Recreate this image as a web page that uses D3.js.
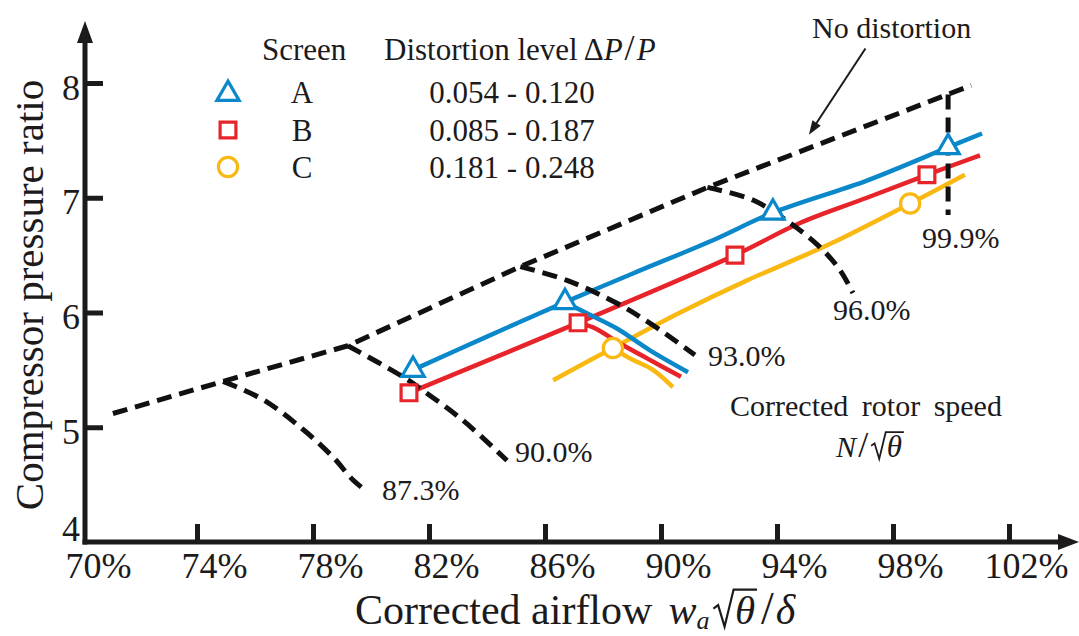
<!DOCTYPE html>
<html>
<head>
<meta charset="utf-8">
<script src="https://cdn.jsdelivr.net/npm/d3@7"></script>
<style>
  html, body { margin: 0; padding: 0; background: #fff; }
  svg { display: block; font-family: "Liberation Serif", "Times New Roman", serif; }
</style>
</head>
<body>
<svg id="chart" width="1079" height="636"></svg>
<script>
// ---- axis ticks ----
const xTicks = [70, 74, 78, 82, 86, 90, 94, 98, 102];   // corrected airflow, %
const yTicks = [4, 5, 6, 7, 8];                          // pressure ratio

// ---- no-distortion operating line (airflow %, pressure ratio) ----
const noDistortion = [[71.1, 5.12], [74.9, 5.40], [79.2, 5.71], [85.15, 6.40], [91.6, 7.09], [100.7, 7.98]];

// ---- constant corrected-speed lines ----
const speedNames = ["87.3%", "90.0%", "93.0%", "96.0%", "99.9%"];
const speed873 = [[74.9, 5.40], [76.28, 5.24], [77.66, 4.98], [78.69, 4.74], [79.38, 4.54], [79.86, 4.44]];
const speed900 = [[79.2, 5.71], [81.10, 5.44], [81.79, 5.32], [83.17, 5.06], [84.69, 4.71]];
const speed930 = [[85.15, 6.40], [86.76, 6.28], [88.48, 6.08], [89.72, 5.89], [91.17, 5.63]];
const speed960 = [[91.6, 7.09], [93.17, 6.98], [94.45, 6.78], [95.48, 6.57], [96.17, 6.37], [96.62, 6.17]];
const speed999 = [[99.9, 7.90], [99.9, 6.85]];

// ---- distorted operating lines, screens A / B / C ----
const screenNames = ["A", "B", "C"];
const distortionLevels = ["0.054 - 0.120", "0.085 - 0.187", "0.181 - 0.248"];
const screenColors = ["#0b88c9", "#e8242b", "#f9b812"];

const lineA = [[81.45, 5.50], [84.0, 5.79], [86.69, 6.09], [89.03, 6.34], [91.79, 6.63], [93.86, 6.87], [97.10, 7.15], [99.90, 7.44], [101.07, 7.56]];
const pointsA = [[81.45, 5.50], [86.69, 6.09], [93.86, 6.87], [99.90, 7.44]];
const branchA = [[86.69, 6.09], [87.55, 5.98], [88.48, 5.86], [89.62, 5.67], [90.93, 5.48]];

const lineB = [[81.31, 5.30], [87.14, 5.91], [92.55, 6.50], [94.79, 6.78], [97.10, 7.00], [99.17, 7.20], [101.0, 7.37]];
const pointsB = [[81.31, 5.30], [87.14, 5.91], [92.55, 6.50], [99.17, 7.20]];
const branchB = [[87.14, 5.91], [87.66, 5.87], [88.59, 5.73], [89.52, 5.60], [90.69, 5.44]];

const lineC = [[86.28, 5.41], [88.34, 5.69], [90.66, 6.00], [92.97, 6.28], [94.79, 6.48], [95.93, 6.61], [98.59, 6.95], [100.48, 7.20]];
const pointsC = [[88.34, 5.69], [98.59, 6.95]];
const branchC = [[88.34, 5.69], [88.93, 5.60], [89.72, 5.50], [90.41, 5.35]];

// ---------------------------------------------------------------
const svg = d3.select("#chart");
const ink = "#1c1a1b";

const x = d3.scaleLinear().domain([70, 102]).range([81, 1009]);
const y = d3.scaleLinear().domain([4, 8]).range([542, 83]);
const axisX = x(70) + 4;     // vertical axis sits just right of the 70 % position

const smooth = d3.line().x(d => x(d[0])).y(d => y(d[1])).curve(d3.curveCatmullRom.alpha(0.5));
const straight = d3.line().x(d => x(d[0])).y(d => y(d[1]));

// ---- axes ----
const gx = svg.append("g").attr("transform", `translate(0,${y(4)})`)
  .call(d3.axisBottom(x).tickValues(xTicks).tickFormat(d => d + "%")
    .tickSizeInner(-18).tickSizeOuter(0).tickPadding(10));
gx.select(".domain").remove();
gx.selectAll(".tick line").attr("stroke", ink).attr("stroke-width", 5)
  .attr("display", d => d === 70 ? "none" : null);
gx.selectAll(".tick text").attr("fill", ink).attr("font-size", 36)
  .attr("font-family", "Liberation Serif").attr("dx", 17);

const gy = svg.append("g").attr("transform", `translate(${axisX},0)`)
  .call(d3.axisLeft(y).tickValues(yTicks).tickFormat(d3.format("d"))
    .tickSizeInner(-18).tickSizeOuter(0).tickPadding(5));
gy.select(".domain").remove();
gy.selectAll(".tick line").attr("stroke", ink).attr("stroke-width", 5)
  .attr("display", d => d === 4 ? "none" : null);
gy.selectAll(".tick text").attr("fill", ink).attr("font-size", 36)
  .attr("font-family", "Liberation Serif")
  .attr("dy", d => d === 4 ? "-0.05em" : "0.45em");

// axis lines with arrowheads
svg.append("line").attr("x1", axisX - 2.5).attr("x2", 1062).attr("y1", y(4)).attr("y2", y(4))
  .attr("stroke", ink).attr("stroke-width", 5);
svg.append("path").attr("d", `M1079,${y(4)} L1058,${y(4) - 8} L1058,${y(4) + 8} Z`).attr("fill", ink);
svg.append("line").attr("x1", axisX).attr("x2", axisX).attr("y1", y(4) + 2.5).attr("y2", 40)
  .attr("stroke", ink).attr("stroke-width", 5);
svg.append("path").attr("d", `M${axisX},21 L${axisX - 8},43 L${axisX + 8},43 Z`).attr("fill", ink);

// ---- helper: lay out a run of text pieces; {rad:size} draws a square-root sign
//      whose vinculum covers the following piece ----
function textRun(parent, x0, base, pieces, anchor) {
  const g = parent.append("g");
  let cx = 0;
  let pendingRad = null;
  pieces.forEach(p => {
    cx += p.gap || 0;
    if (p.rad) {
      pendingRad = { x: cx, s: p.rad };
      cx += p.rad * 0.5;
      return;
    }
    const t = g.append("text").attr("x", cx).attr("y", p.dy || 0)
      .attr("font-size", p.size).attr("fill", ink)
      .attr("font-style", p.italic ? "italic" : "normal")
      .text(p.t);
    const w = t.node().getComputedTextLength();
    if (pendingRad) {
      const r = pendingRad, s = r.s;
      const top = -0.80 * s, end = cx + w + 2;
      g.append("path").attr("fill", "none").attr("stroke", ink).attr("stroke-linejoin", "miter")
        .attr("stroke-width", Math.max(1.8, s * 0.05))
        .attr("d", `M${r.x},${-0.36 * s} L${r.x + 0.11 * s},${-0.44 * s} L${r.x + 0.26 * s},${0.06 * s} L${r.x + 0.47 * s},${top} L${end},${top}`);
      pendingRad = null;
    }
    cx += w + (p.after || 0);
  });
  const shift = anchor === "middle" ? -cx / 2 : 0;
  g.attr("transform", `translate(${x0 + shift},${base})`);
  return g;
}

// ---- titles ----
svg.append("text").attr("transform", "translate(43,295) rotate(-90)")
  .attr("text-anchor", "middle").attr("font-size", 41).attr("fill", ink)
  .text("Compressor pressure ratio");

textRun(svg, 355, 624, [
  { t: "Corrected airflow", size: 42, after: 10 },
  { t: "w", size: 42, italic: true, gap: 6 },
  { t: "a", size: 26, italic: true, dy: 5 },
  { rad: 43, gap: 4 },
  { t: "\u03B8", size: 41, italic: true },
  { t: "/", size: 46, gap: 6 },
  { t: "\u03B4", size: 42, italic: true, gap: 2 }
]);

// ---- legend ----
const legendRows = [92, 130, 167];
svg.append("text").attr("x", 262).attr("y", 60).attr("font-size", 31).attr("fill", ink).text("Screen");
textRun(svg, 384, 60, [
  { t: "Distortion level", size: 31, after: 6 },
  { t: "\u0394", size: 31 },
  { t: "P", size: 31, italic: true },
  { t: "/", size: 36, gap: 2 },
  { t: "P", size: 31, italic: true, gap: 2 }
]);
const symbolTypes = [d3.symbolTriangle, d3.symbolSquare, d3.symbolCircle];
const symbolSizes = [215, 250, 290];
screenNames.forEach((s, i) => {
  svg.append("path").attr("d", d3.symbol().type(symbolTypes[i]).size(symbolSizes[i])())
    .attr("transform", `translate(228,${legendRows[i] + (i === 0 ? 2 : 0)})`)
    .attr("fill", "#fff").attr("stroke", screenColors[i]).attr("stroke-width", 3.2);
  svg.append("text").attr("x", 302).attr("y", legendRows[i] + 11).attr("text-anchor", "middle")
    .attr("font-size", 31).attr("fill", ink).text(s);
  svg.append("text").attr("x", 512).attr("y", legendRows[i] + 11).attr("text-anchor", "middle")
    .attr("font-size", 31).attr("fill", ink).text(distortionLevels[i]);
});

// ---- distorted operating lines ----
const mainLines = [lineA, lineB, lineC];
const branches = [branchA, branchB, branchC];
const points = [pointsA, pointsB, pointsC];
const gLines = svg.append("g");
[2, 1, 0].forEach(i => {
  gLines.append("path").attr("d", smooth(mainLines[i])).attr("fill", "none")
    .attr("stroke", screenColors[i]).attr("stroke-width", 4.5).attr("stroke-linecap", "butt");
  gLines.append("path").attr("d", smooth(branches[i])).attr("fill", "none")
    .attr("stroke", screenColors[i]).attr("stroke-width", 4.5).attr("stroke-linecap", "butt");
});

// ---- dashed reference lines ----
const dash = "15,8";
const gDash = svg.append("g").attr("fill", "none").attr("stroke", "#111")
  .attr("stroke-width", 5).attr("stroke-dasharray", dash);
gDash.append("path").attr("d", straight(noDistortion));
const speedLines = [speed873, speed900, speed930, speed960, speed999];
speedLines.forEach(s => gDash.append("path").attr("d", s.length > 2 ? smooth(s) : straight(s)));

// speed labels placed from each line's end point
const labelOffsets = [[15, 8], [8, 1], [13, 11], [-20, 27], [-26, 33]];
speedLines.forEach((s, i) => {
  const e = s[s.length - 1];
  svg.append("text").attr("x", x(e[0]) + labelOffsets[i][0]).attr("y", y(e[1]) + labelOffsets[i][1])
    .attr("font-size", 30).attr("fill", ink).text(speedNames[i]);
});

// ---- markers ----
points.forEach((pts, i) => {
  svg.append("g").selectAll("path").data(pts).join("path")
    .attr("d", d3.symbol().type(symbolTypes[i]).size(symbolSizes[i])())
    .attr("transform", d => `translate(${x(d[0])},${y(d[1])})`)
    .attr("fill", "#fff").attr("stroke", screenColors[i]).attr("stroke-width", 3.2);
});

// ---- annotations ----
svg.append("text").attr("x", 812).attr("y", 38).attr("font-size", 30).attr("fill", ink).text("No distortion");
const arrowFrom = [97.05, 8.30], arrowTo = [95.1, 7.55];
const ax1 = x(arrowFrom[0]), ay1 = y(arrowFrom[1]), ax2 = x(arrowTo[0]), ay2 = y(arrowTo[1]);
const ang = Math.atan2(ay2 - ay1, ax2 - ax1);
svg.append("line").attr("x1", ax1).attr("y1", ay1)
  .attr("x2", ax2 - 10 * Math.cos(ang)).attr("y2", ay2 - 10 * Math.sin(ang))
  .attr("stroke", ink).attr("stroke-width", 2);
svg.append("path").attr("fill", ink).attr("d", () => {
  const L = 14, W = 5;
  const bx = ax2 - L * Math.cos(ang), by = ay2 - L * Math.sin(ang);
  const px = -Math.sin(ang) * W, py = Math.cos(ang) * W;
  return `M${ax2},${ay2} L${bx + px},${by + py} L${bx - px},${by - py} Z`;
});

svg.append("text").attr("x", 866).attr("y", 416).attr("text-anchor", "middle")
  .attr("font-size", 30).attr("word-spacing", 6).attr("fill", ink).text("Corrected rotor speed");
textRun(svg, 869, 457, [
  { t: "N", size: 30, italic: true },
  { t: "/", size: 36, gap: 2 },
  { rad: 31, gap: 3 },
  { t: "\u03B8", size: 31, italic: true }
], "middle");
</script>
</body>
</html>
